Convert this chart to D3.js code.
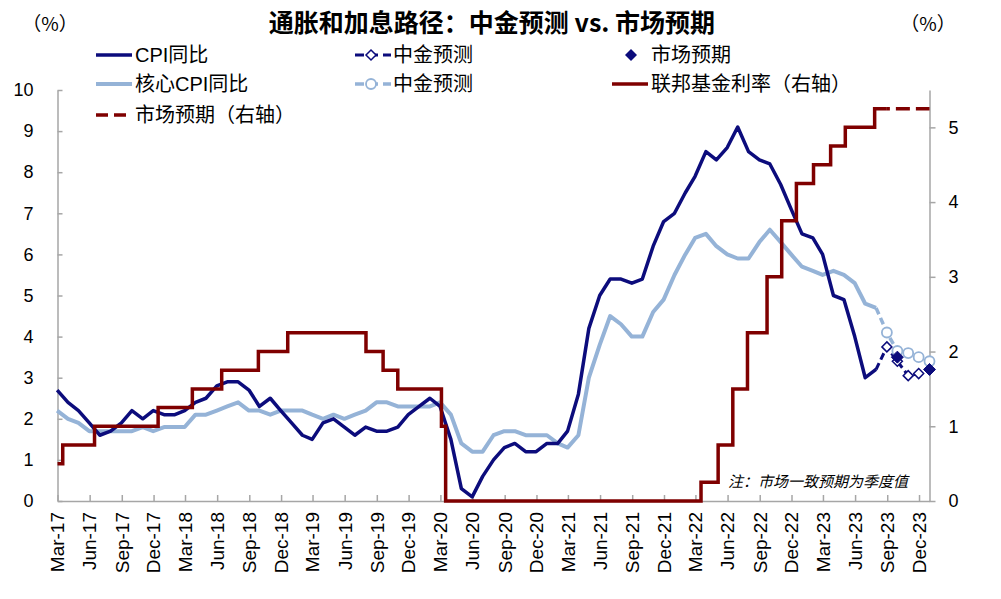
<!DOCTYPE html>
<html><head><meta charset="utf-8">
<script src="https://cdn.jsdelivr.net/npm/d3@7"></script>
<style>
html,body{margin:0;padding:0;background:#fff;}
text{font-family:"Liberation Sans","Noto Sans CJK SC",Arial,sans-serif;fill:#000;}
</style></head>
<body><svg id="c" width="1001" height="599"></svg>
<script>
// ---------- DATA ----------
// monthly YoY, Feb-2017 .. Jul-2023 (plotted at month end)
const cpi = [2.7,2.4,2.2,1.9,1.6,1.7,1.9,2.2,2.0,2.2,2.1,
  2.1,2.2,2.4,2.5,2.8,2.9,2.9,2.7,2.3,2.5,2.2,1.9,
  1.6,1.5,1.9,2.0,1.8,1.6,1.8,1.7,1.7,1.8,2.1,2.3,
  2.5,2.3,1.5,0.3,0.1,0.6,1.0,1.3,1.4,1.2,1.2,1.4,
  1.4,1.7,2.6,4.2,5.0,5.4,5.4,5.3,5.4,6.2,6.8,7.0,
  7.5,7.9,8.5,8.3,8.6,9.1,8.5,8.3,8.2,7.7,7.1,6.5,
  6.4,6.0,5.0,4.9,4.0,3.0,3.2];
const coreCpi = [2.2,2.0,1.9,1.7,1.7,1.7,1.7,1.7,1.8,1.7,1.8,
  1.8,1.8,2.1,2.1,2.2,2.3,2.4,2.2,2.2,2.1,2.2,2.2,
  2.2,2.1,2.0,2.1,2.0,2.1,2.2,2.4,2.4,2.3,2.3,2.3,
  2.3,2.4,2.1,1.4,1.2,1.2,1.6,1.7,1.7,1.6,1.6,1.6,
  1.4,1.3,1.6,3.0,3.8,4.5,4.3,4.0,4.0,4.6,4.9,5.5,
  6.0,6.4,6.5,6.2,6.0,5.9,5.9,6.3,6.6,6.3,6.0,5.7,
  5.6,5.5,5.6,5.5,5.3,4.8,4.7];
// CICC forecasts (first entry = last actual, Jul-2023)
const cpiCiccMonths = ["2023-07","2023-08","2023-09","2023-10","2023-11"];
const cpiCicc = [3.2,3.75,3.4,3.05,3.1];
const coreCiccMonths = ["2023-07","2023-08","2023-09","2023-10","2023-11","2023-12"];
const coreCicc = [4.7,4.1,3.65,3.6,3.5,3.4];
// market consensus (quarterly)
const mktMonths = ["2023-09","2023-12"];
const mktCpi = [3.5,3.2];
// Fed funds target (lower bound), change dates
const fedDates = ["2017-03-01","2017-03-16","2017-06-15","2017-12-14","2018-03-22","2018-06-14",
  "2018-09-27","2018-12-20","2019-08-01","2019-09-19","2019-10-31","2020-03-04","2020-03-16",
  "2022-03-17","2022-05-05","2022-06-16","2022-07-28","2022-09-22","2022-11-03","2022-12-15",
  "2023-02-02","2023-03-23","2023-05-04","2023-07-27","2023-08-31"];
const fedRate = [0.5,0.75,1.0,1.25,1.5,1.75,2.0,2.25,2.0,1.75,1.5,1.0,0,
  0.25,0.75,1.5,2.25,3.0,3.75,4.25,4.5,4.75,5.0,5.25,5.25];
const fedMktDates = ["2023-08-31","2023-12-31"];
const fedMkt = [5.25,5.25];
const leftTicks = [0,1,2,3,4,5,6,7,8,9,10];
const rightTicks = [0,1,2,3,4,5];

// ---------- HELPERS ----------
const pd = d3.timeParse("%Y-%m-%d");
const monthEnd = s => { const [y,m] = s.split("-").map(Number); return new Date(y, m, 0); };
const monthlyFrom = (arr, y0, m0) => arr.map((v,i)=>({d:new Date(y0, m0 + i + 1, 0), v}));

const cpiData = monthlyFrom(cpi, 2017, 1);
const coreData = monthlyFrom(coreCpi, 2017, 1);
const cpiCiccData = cpiCiccMonths.map((m,i)=>({d:monthEnd(m), v:cpiCicc[i]}));
const coreCiccData = coreCiccMonths.map((m,i)=>({d:monthEnd(m), v:coreCicc[i]}));
const mktData = mktMonths.map((m,i)=>({d:monthEnd(m), v:mktCpi[i]}));
const fedData = fedDates.map((s,i)=>({d:pd(s), v:fedRate[i]}));
const fedMktData = fedMktDates.map((s,i)=>({d:pd(s), v:fedMkt[i]}));

// ---------- SCALES ----------
const X0 = 57.5, X1 = 929.5, Y0 = 501, Y1 = 90;
const x = d3.scaleTime().domain([new Date(2017,2,1), new Date(2023,11,31)]).range([X0, X1]);
const yL = d3.scaleLinear().domain([0,10]).range([Y0, Y1]);
const yR = d3.scaleLinear().domain([0,5.5]).range([Y0, Y1]);

const NAVY = "#0c0c7c", LIGHT = "#95b3d7", RED = "#7f0000", AX = "#a6a6a6";

const svg = d3.select("#c");

// title & units
svg.append("text").attr("x", 492).attr("y", 32).attr("text-anchor","middle")
  .style("font-size","25px").style("font-weight","bold")
  .style("font-family",'"Noto Sans CJK SC","Liberation Sans",sans-serif')
  .text("通胀和加息路径：中金预测 vs. 市场预期");
svg.append("text").attr("x", 50).attr("y", 31).attr("text-anchor","middle").style("font-size","19px")
  .style("font-family",'"Noto Sans CJK SC",sans-serif').text("（%）");
svg.append("text").attr("x", 928).attr("y", 31).attr("text-anchor","middle").style("font-size","19px")
  .style("font-family",'"Noto Sans CJK SC",sans-serif').text("（%）");

// axes
const gL = svg.append("g").attr("transform",`translate(${X0},0)`)
  .call(d3.axisLeft(yL).tickValues(leftTicks).tickSize(-5).tickSizeOuter(0).tickPadding(24).tickFormat(d3.format("d")));
const gR = svg.append("g").attr("transform",`translate(${X1},0)`)
  .call(d3.axisRight(yR).tickValues(rightTicks).tickSize(6).tickSizeOuter(0).tickPadding(13).tickFormat(d3.format("d")));
const xTicks = d3.timeMonth.range(new Date(2017,2,1), new Date(2024,0,1), 3);
const gB = svg.append("g").attr("transform",`translate(0,${Y0})`)
  .call(d3.axisBottom(x).tickValues(xTicks).tickSize(-6).tickSizeOuter(0).tickFormat(""));
[gL,gR,gB].forEach(g=>{
  g.selectAll("path,line").attr("stroke",AX).attr("stroke-width",1.5);
  g.selectAll("text").style("font-size","18px").attr("fill","#000")
    .style("font-family",'"Liberation Sans",Arial,sans-serif');
});
gB.selectAll(".tick text").remove();
svg.append("g").selectAll("text").data(xTicks).join("text")
  .attr("transform", d=>`translate(${x(d)},512) rotate(-90)`)
  .attr("text-anchor","end").attr("dy","0.36em")
  .style("font-size","19px")
  .text(d=>d3.timeFormat("%b-%y")(d));

// lines
const lineL = d3.line().x(d=>x(d.d)).y(d=>yL(d.v));
const lineR = d3.line().x(d=>x(d.d)).y(d=>yR(d.v));
const stepR = d3.line().x(d=>x(d.d)).y(d=>yR(d.v)).curve(d3.curveStepAfter);

svg.append("path").datum(coreData).attr("d",lineL).attr("fill","none")
  .attr("stroke",LIGHT).attr("stroke-width",4).attr("stroke-linejoin","round");
svg.append("path").datum(cpiData).attr("d",lineL).attr("fill","none")
  .attr("stroke",NAVY).attr("stroke-width",3.5).attr("stroke-linejoin","round");
svg.append("path").datum(fedData).attr("d",stepR).attr("fill","none")
  .attr("stroke",RED).attr("stroke-width",3.5);
svg.append("path").datum(fedMktData).attr("d",lineR).attr("fill","none")
  .attr("stroke",RED).attr("stroke-width",3.5).attr("stroke-dasharray","14,6").attr("stroke-dashoffset",11);

// forecasts
svg.append("path").datum(coreCiccData).attr("d",lineL).attr("fill","none")
  .attr("stroke",LIGHT).attr("stroke-width",3.5).attr("stroke-dasharray","7,4");
svg.append("path").datum(cpiCiccData).attr("d",lineL).attr("fill","none")
  .attr("stroke",NAVY).attr("stroke-width",3).attr("stroke-dasharray","7,4");

const diamond = r => `M0,${-r}L${r},0L0,${r}L${-r},0Z`;
svg.append("g").selectAll("circle").data(coreCiccData.slice(1)).join("circle")
  .attr("cx",d=>x(d.d)).attr("cy",d=>yL(d.v)).attr("r",5)
  .attr("fill","#fff").attr("stroke",LIGHT).attr("stroke-width",1.8);
svg.append("g").selectAll("path").data(cpiCiccData.slice(1)).join("path")
  .attr("transform",d=>`translate(${x(d.d)},${yL(d.v)})`).attr("d",diamond(5))
  .attr("fill","#fff").attr("stroke",NAVY).attr("stroke-width",1.5);
svg.append("g").selectAll("path").data(mktData).join("path")
  .attr("transform",d=>`translate(${x(d.d)},${yL(d.v)})`).attr("d",diamond(6))
  .attr("fill",NAVY).attr("stroke",NAVY).attr("stroke-width",1);

// legend
const lg = svg.append("g").style("font-size","20px");
const rows = [55, 84, 115];
function lineSample(x1,x2,y,color,w,dash){
  lg.append("line").attr("x1",x1).attr("x2",x2).attr("y1",y).attr("y2",y)
    .attr("stroke",color).attr("stroke-width",w).attr("stroke-dasharray",dash||null);
}
function label(xp,y,t){ lg.append("text").attr("x",xp).attr("y",y).attr("dy","0.36em").text(t); }
lineSample(96,132,rows[0],NAVY,3.5); label(135,rows[0],"CPI同比");
lineSample(355,391,rows[0],NAVY,3,"9,5");
lg.append("path").attr("transform",`translate(371,${rows[0]})`).attr("d",diamond(5)).attr("fill","#fff").attr("stroke",NAVY).attr("stroke-width",1.5);
label(393,rows[0],"中金预测");
lg.append("path").attr("transform",`translate(631,${rows[0]})`).attr("d",diamond(6)).attr("fill",NAVY);
label(651,rows[0],"市场预期");
lineSample(96,132,rows[1],LIGHT,4); label(135,rows[1],"核心CPI同比");
lineSample(355,391,rows[1],LIGHT,3.5,"9,5");
lg.append("circle").attr("cx",371).attr("cy",rows[1]).attr("r",5).attr("fill","#fff").attr("stroke",LIGHT).attr("stroke-width",1.8);
label(393,rows[1],"中金预测");
lineSample(612,648,rows[1],RED,3.5); label(651,rows[1],"联邦基金利率（右轴）");
lineSample(96,132,rows[2],RED,3.5,"12,6"); label(135,rows[2],"市场预期（右轴）");

// note
svg.append("text").attr("x",728).attr("y",487).style("font-size","15px").style("font-style","italic")
  .text("注：市场一致预期为季度值");
</script></body></html>
